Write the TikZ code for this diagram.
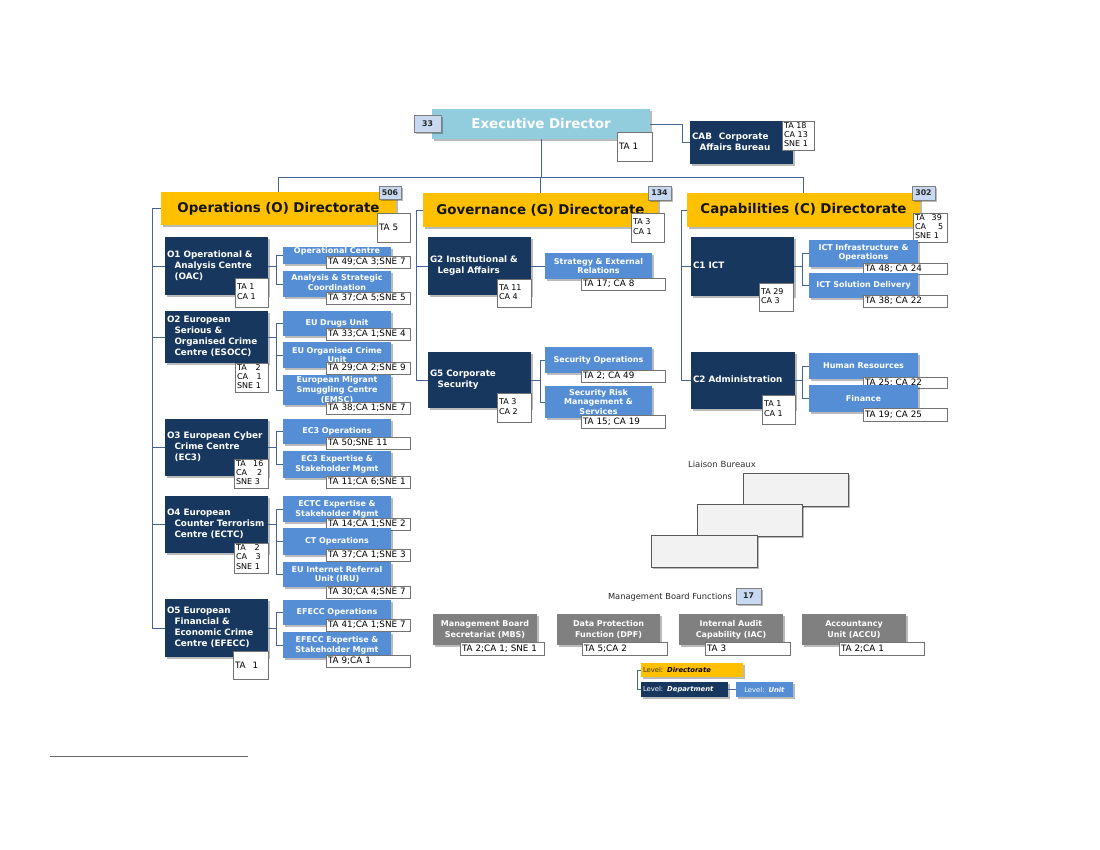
\documentclass[tikz,border=0pt]{standalone}
\usepackage{fontspec}
\setmainfont{DejaVu Sans}
\usetikzlibrary{shadows}
\definecolor{navy}{RGB}{23,55,94}
\definecolor{unitblue}{RGB}{85,142,213}
\definecolor{gold}{RGB}{255,192,0}
\definecolor{edteal}{RGB}{146,205,221}
\definecolor{badgeblue}{RGB}{198,217,241}
\definecolor{mbgray}{RGB}{128,128,128}
\definecolor{connc}{RGB}{70,100,150}
\definecolor{liaisonfill}{RGB}{242,242,242}
\newcommand\fs[2]{\fontsize{#1}{#2}\selectfont}
\newcommand\ind{\hspace*{7.5pt}}
\newcommand\dtxt[1]{\begin{tabular}{@{}l@{}}#1\end{tabular}}
\newcommand{\bx}[6]{%
  \pgfmathsetmacro\bxw{#5-#3}\pgfmathsetmacro\bxh{#6-#4}%
  \pgfmathsetmacro\bxx{(#3+#5)/2}\pgfmathsetmacro\bxy{(#4+#6)/2}%
  \pgfmathsetmacro\bxt{#5-#3-4}%
  \node[minimum width=\bxw pt, minimum height=\bxh pt, text width=\bxt pt, inner xsep=2pt, inner ysep=0pt, #1] (#2) at (\bxx,\bxy)}
\tikzset{
  shad/.style={drop shadow={shadow xshift=2.2pt,shadow yshift=-2.2pt,opacity=0.27,fill=black}},
  dirbox/.style={fill=gold, shad, align=center, font=\bfseries\fs{13.4}{15}, text=black!92},
  deptbox/.style={fill=navy, shad, align=left, font=\bfseries\fs{8.8}{11}, text=white},
  unitbox/.style={fill=unitblue, shad, align=center, font=\bfseries\fs{8}{9.8}, text=white},
  cntbox/.style={fill=white, draw=black!55, line width=0.5pt, align=left, font=\fs{8.8}{9.5}, text=black},
  cntm/.style={fill=white, draw=black!55, line width=0.5pt, align=left, font=\fs{8}{9.3}, text=black},
  badge/.style={fill=badgeblue, draw=black!50, line width=0.6pt, shad, align=center, font=\bfseries\fs{7.8}{9}, text=black!85},
  mbbox/.style={fill=mbgray, shad, align=center, font=\bfseries\fs{8}{11}, text=white},
  lbox/.style={fill=liaisonfill, draw=black!65, line width=0.6pt, shad},
  legbox/.style={shad, inner xsep=1.5pt, align=left, font=\fs{6.8}{8}},
  conn/.style={draw=connc, line width=0.9pt},
}
\begin{document}
\begin{tikzpicture}[x=1pt,y=-1pt]
\fill[white] (0,0) rectangle (1100,850);
\useasboundingbox (0,0) rectangle (1100,850);

% Executive director
\bx{fill=edteal, shad, align=center, font=\bfseries\fs{13.4}{15}, text=white}{ed}{432}{109}{650}{139}{Executive Director};
\bx{badge}{edb}{414}{115}{441}{132}{33};
\bx{cntbox}{edc}{617}{132}{652}{161}{TA 1};
\bx{deptbox}{cab}{690}{121}{793}{164}{\dtxt{CAB\hspace{4pt} Corporate\\\ind Affairs Bureau}};
\bx{cntm}{cabc}{782}{121}{814}{150}{\dtxt{TA 18\\CA 13\\SNE 1}};

% Directorates
\bx{dirbox}{odir}{161}{192}{396}{225}{Operations (O) Directorate};
\bx{dirbox}{gdir}{423}{193}{658}{227}{Governance (G) Directorate};
\bx{dirbox}{cdir}{687}{193}{920}{227}{Capabilities (C) Directorate};
\bx{badge}{ob}{379}{186}{401}{199}{506};
\bx{badge}{gb}{648}{186}{671}{200}{134};
\bx{badge}{cb}{912}{186}{935}{200}{302};
\bx{cntbox}{oc}{377}{213}{410}{242}{TA 5};
\bx{cntm}{gc}{631}{213}{664}{242}{\dtxt{TA 3\\CA 1}};
\bx{cntm}{cc}{913}{213}{947}{242}{\dtxt{TA\hspace{7pt}39\\CA\hspace{12pt}5\\SNE 1}};

% O departments
\bx{deptbox}{o1}{165}{237}{268}{295}{\dtxt{O1 Operational \&\\\ind Analysis Centre\\\ind (OAC)}};
\bx{deptbox}{o2}{165}{311}{268}{363}{\dtxt{O2 European\\\ind Serious \&\\\ind Organised Crime\\\ind Centre (ESOCC)}};
\bx{deptbox}{o3}{165}{419}{268}{476}{\dtxt{O3 European Cyber\\\ind Crime Centre\\\ind (EC3)}};
\bx{deptbox}{o4}{165}{496}{268}{553}{\dtxt{O4 European\\\ind Counter Terrorism\\\ind Centre (ECTC)}};
\bx{deptbox}{o5}{165}{599}{268}{657}{\dtxt{O5 European\\\ind Financial \&\\\ind Economic Crime\\\ind Centre (EFECC)}};
\bx{cntm}{o1c}{235}{278}{268}{307}{\dtxt{TA 1\\CA 1}};
\bx{cntm}{o2c}{235}{363}{268}{392}{\dtxt{TA\hspace{9pt}2\\CA\hspace{8.5pt}1\\SNE 1}};
\bx{cntm}{o3c}{234}{459}{268}{488}{\dtxt{TA\hspace{7.5pt}16\\CA\hspace{10pt}2\\SNE 3}};
\bx{cntm}{o4c}{234}{543}{268}{573}{\dtxt{TA\hspace{9pt}2\\CA\hspace{8.5pt}3\\SNE 1}};
\bx{cntbox}{o5c}{233}{651}{268}{679}{TA\hspace{7pt}1};

% O units
\bx{unitbox, text height=4pt, text depth=8pt}{u11}{283}{247}{391}{264}{Operational Centre};
\bx{cntbox}{u11c}{326}{256}{410}{268}{TA 49;CA 3;SNE 7};
\bx{unitbox, text depth=13pt}{u12}{283}{271}{391}{297}{Analysis \& Strategic\\Coordination};
\bx{cntbox}{u12c}{326}{292}{410}{304}{TA 37;CA 5;SNE 5};
\bx{unitbox}{u21}{283}{311}{391}{336}{EU Drugs Unit};
\bx{cntbox}{u21c}{326}{328}{410}{340}{TA 33;CA 1;SNE 4};
\bx{unitbox}{u22}{283}{342}{391}{368}{EU Organised Crime\\Unit};
\bx{cntbox}{u22c}{326}{362}{410}{374}{TA 29;CA 2;SNE 9};
\bx{unitbox}{u23}{283}{375}{391}{405}{European Migrant\\Smuggling Centre\\(EMSC)};
\bx{cntbox}{u23c}{326}{402}{410}{414}{TA 38;CA 1;SNE 7};
\bx{unitbox}{u31}{283}{419}{391}{444}{EC3 Operations};
\bx{cntbox}{u31c}{326}{437}{410}{449}{TA 50;SNE 11};
\bx{unitbox}{u32}{283}{451}{391}{478}{EC3 Expertise \&\\Stakeholder Mgmt};
\bx{cntbox}{u32c}{326}{476}{410}{488}{TA 11;CA 6;SNE 1};
\bx{unitbox}{u41}{283}{496}{391}{522}{ECTC Expertise \&\\Stakeholder Mgmt};
\bx{cntbox}{u41c}{326}{518}{410}{530}{TA 14;CA 1;SNE 2};
\bx{unitbox}{u42}{283}{528}{391}{555}{CT Operations};
\bx{cntbox}{u42c}{326}{549}{410}{561}{TA 37;CA 1;SNE 3};
\bx{unitbox}{u43}{283}{562}{391}{587}{EU Internet Referral\\Unit (IRU)};
\bx{cntbox}{u43c}{326}{586}{410}{598}{TA 30;CA 4;SNE 7};
\bx{unitbox}{u51}{283}{600}{391}{625}{EFECC Operations};
\bx{cntbox}{u51c}{326}{619}{410}{631}{TA 41;CA 1;SNE 7};
\bx{unitbox}{u52}{283}{632}{391}{658}{EFECC Expertise \&\\Stakeholder Mgmt};
\bx{cntbox}{u52c}{326}{655}{410}{667}{TA 9;CA 1};

% G departments and units
\bx{deptbox}{g2}{428}{237}{531}{295}{\dtxt{G2 Institutional \&\\\ind Legal Affairs}};
\bx{cntm}{g2c}{497}{279}{531}{307}{\dtxt{TA 11\\CA 4}};
\bx{deptbox}{g5}{428}{352}{531}{408}{\dtxt{G5 Corporate\\\ind Security}};
\bx{cntm}{g5c}{497}{393}{531}{422}{\dtxt{TA 3\\CA 2}};
\bx{unitbox}{g21}{545}{253}{652}{279}{Strategy \& External\\Relations};
\bx{cntbox}{g21c}{581}{278}{665}{290}{TA 17; CA 8};
\bx{unitbox}{g51}{545}{347}{652}{373}{Security Operations};
\bx{cntbox}{g51c}{581}{370}{665}{382}{TA 2; CA 49};
\bx{unitbox}{g52}{545}{386}{652}{418}{Security Risk\\Management \&\\Services};
\bx{cntbox}{g52c}{581}{415}{665}{428}{TA 15; CA 19};

% C departments and units
\bx{deptbox}{c1}{691}{237}{794}{296}{\dtxt{C1 ICT}};
\bx{cntm}{c1c}{759}{283}{793}{311}{\dtxt{TA 29\\CA 3}};
\bx{deptbox}{c2}{691}{352}{795}{409}{\dtxt{C2 Administration}};
\bx{cntm}{c2c}{762}{395}{795}{424}{\dtxt{TA 1\\CA 1}};
\bx{unitbox, text depth=13pt}{c11}{809}{240}{918}{267}{ICT Infrastructure \&\\Operations};
\bx{cntbox}{c11c}{863}{263}{947}{274}{TA 48; CA 24};
\bx{unitbox}{c12}{809}{273}{918}{298}{ICT Solution Delivery};
\bx{cntbox}{c12c}{863}{295}{947}{307}{TA 38; CA 22};
\bx{unitbox}{c21}{809}{353}{918}{379}{Human Resources};
\bx{cntbox}{c21c}{863}{377}{947}{388}{TA 25; CA 22};
\bx{unitbox}{c22}{809}{385}{918}{412}{Finance};
\bx{cntbox}{c22c}{863}{408}{947}{421}{TA 19; CA 25};

% Liaison bureaux
\node[font=\fs{8.5}{10}, text=black!80] (lbl) at (722,464) {Liaison Bureaux};
\bx{lbox}{lb1}{743}{473}{848}{506}{};
\bx{lbox}{lb2}{697}{504}{802}{536}{};
\bx{lbox}{lb3}{651}{535}{757}{567}{};

% Management board functions
\node[font=\fs{8.3}{10}, text=black!85] (mbl) at (670,597) {Management Board Functions};
\bx{badge}{mbb}{736}{588}{761}{604}{17};
\bx{mbbox}{mb1}{433}{614}{537}{645}{Management Board\\Secretariat (MBS)};
\bx{cntbox}{mb1c}{460}{642}{544}{655}{TA 2;CA 1; SNE 1};
\bx{mbbox}{mb2}{557}{614}{660}{645}{Data Protection\\Function (DPF)};
\bx{cntbox}{mb2c}{582}{642}{667}{655}{TA 5;CA 2};
\bx{mbbox}{mb3}{679}{614}{783}{645}{Internal Audit\\Capability (IAC)};
\bx{cntbox}{mb3c}{705}{642}{790}{655}{TA 3};
\bx{mbbox}{mb4}{802}{614}{906}{645}{Accountancy\\Unit (ACCU)};
\bx{cntbox}{mb4c}{839}{642}{924}{655}{TA 2;CA 1};

% Legend
\bx{legbox, fill=gold, text=black!80}{ld}{641}{663}{743}{677}{Level:\hspace{4pt}\textcolor{black}{\textbf{\textit{Directorate}}}};
\bx{legbox, fill=navy, text=white}{lp}{641}{682}{728}{697}{Level:\hspace{4pt}\textbf{\textit{Department}}};
\bx{legbox, fill=unitblue, text=white, align=center}{lu}{736}{682}{793}{697}{Level:\hspace{4pt}\textbf{\textit{Unit}}};

% Connectors
\coordinate (busl) at (278,177);
\draw[conn] (ed.east) -- (682,124) |- (cab.west);
\draw[conn] (ed.south) -- (ed.south |- busl);
\draw[conn] (odir.north) -- (odir.north |- busl) -- (cdir.north |- busl) -- (cdir.north);
\draw[conn] (gdir.north) -- (gdir.north |- busl);
\foreach \d in {o1,o2,o3,o4,o5} \draw[conn] (odir.west) -- ++(-8,0) |- (\d.west);
\foreach \d in {g2,g5} \draw[conn] (gdir.west) -- ++(-6,0) |- (\d.west);
\foreach \d in {c1,c2} \draw[conn] (cdir.west) -- ++(-5,0) |- (\d.west);
\foreach \u in {u11,u12} \draw[conn] (o1.east) -- ++(8,0) |- (\u.west);
\foreach \u in {u21,u22,u23} \draw[conn] (o2.east) -- ++(8,0) |- (\u.west);
\foreach \u in {u31,u32} \draw[conn] (o3.east) -- ++(8,0) |- (\u.west);
\foreach \u in {u41,u42,u43} \draw[conn] (o4.east) -- ++(8,0) |- (\u.west);
\foreach \u in {u51,u52} \draw[conn] (o5.east) -- ++(8,0) |- (\u.west);
\draw[conn] (g2.east) -- (g21.west);
\foreach \u in {g51,g52} \draw[conn] (g5.east) -- ++(9,0) |- (\u.west);
\foreach \u in {c11,c12} \draw[conn] (c1.east) -- ++(8,0) |- (\u.west);
\foreach \u in {c21,c22} \draw[conn] (c2.east) -- ++(7,0) |- (\u.west);
\draw[conn] (ld.west) -- ++(-3,0) |- (lp.west);
\draw[conn] (lp.east) -- (lu.west);

% footnote rule
\coordinate (fn1) at (50,756);
\coordinate (fn2) at (248,756);
\draw[black!60, line width=1pt] (fn1) -- (fn2);
\end{tikzpicture}
\end{document}
